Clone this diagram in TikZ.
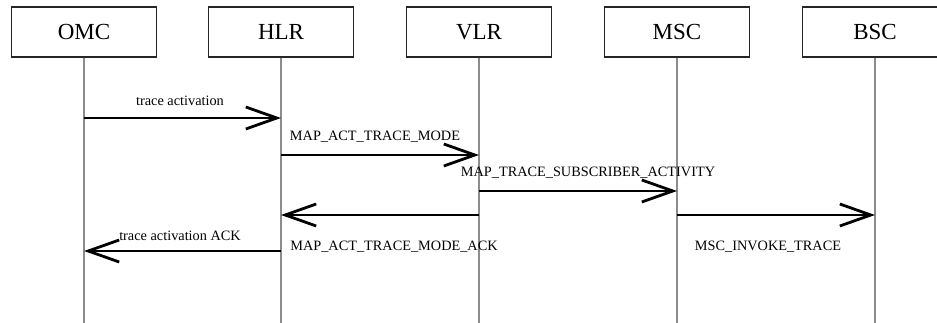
\documentclass[tikz,border=0pt]{standalone}
\usepackage{fontspec}
\setmainfont{Liberation Serif}
\usetikzlibrary{arrows.meta}
\begin{document}
\begin{tikzpicture}[x=1pt,y=-1pt,
  entity/.style={draw=black!85,line width=1.1pt,minimum width=145pt,minimum height=50pt,inner sep=0pt,font=\fontsize{23}{23}\selectfont},
  life/.style={draw=black!45,line width=2pt},
  msg/.style={line width=1.4pt,-{Straight Barb[length=31pt,width=22pt,line width=2.8pt]}},
  lbl/.style={inner sep=0pt,font=\fontsize{14.3}{15}\selectfont}]
\useasboundingbox (0,0) rectangle (937,323);
\fill[white] (0,0) rectangle (937,323);
% entities
\node[entity] (omc) at (84,32) {OMC};
\node[entity] (hlr) at (281,32) {HLR};
\node[entity] (vlr) at (479,32) {VLR};
\node[entity] (msc) at (677,32) {MSC};
\node[entity] (bsc) at (875,32) {BSC};
% lifelines
\foreach \n in {omc,hlr,vlr,msc,bsc}{
  \coordinate (\n end) at (\n.south |- 0,323);
  \draw[life] (\n.south) -- (\n end);
}
% message points
\coordinate (m1a) at (omc.south |- 0,118);
\coordinate (m1b) at (hlr.south |- 0,118);
\coordinate (m2a) at (hlr.south |- 0,155);
\coordinate (m2b) at (vlr.south |- 0,155);
\coordinate (m3a) at (vlr.south |- 0,191);
\coordinate (m3b) at (msc.south |- 0,191);
\coordinate (m4a) at (vlr.south |- 0,215);
\coordinate (m4b) at (hlr.south |- 0,215);
\coordinate (m5a) at (msc.south |- 0,215);
\coordinate (m5b) at (bsc.south |- 0,215);
\coordinate (m6a) at (hlr.south |- 0,251);
\coordinate (m6b) at (omc.south |- 0,251);
\draw[msg] (m1a) -- (m1b);
\draw[msg] (m2a) -- (m2b);
\draw[msg] (m3a) -- (m3b);
\draw[msg] (m4a) -- (m4b);
\draw[msg] (m5a) -- (m5b);
\draw[msg] (m6a) -- (m6b);
% labels
\node[lbl] (l1) at (180,101) {trace activation};
\node[lbl] (l2) at (375,137) {MAP\_ACT\_TRACE\_MODE};
\node[lbl] (l3) at (588,173) {MAP\_TRACE\_SUBSCRIBER\_ACTIVITY};
\node[lbl] (l4) at (394,247) {MAP\_ACT\_TRACE\_MODE\_ACK};
\node[lbl] (l5) at (768,247) {MSC\_INVOKE\_TRACE};
\node[lbl] (l6) at (180,236) {trace activation ACK};
\end{tikzpicture}
\end{document}
